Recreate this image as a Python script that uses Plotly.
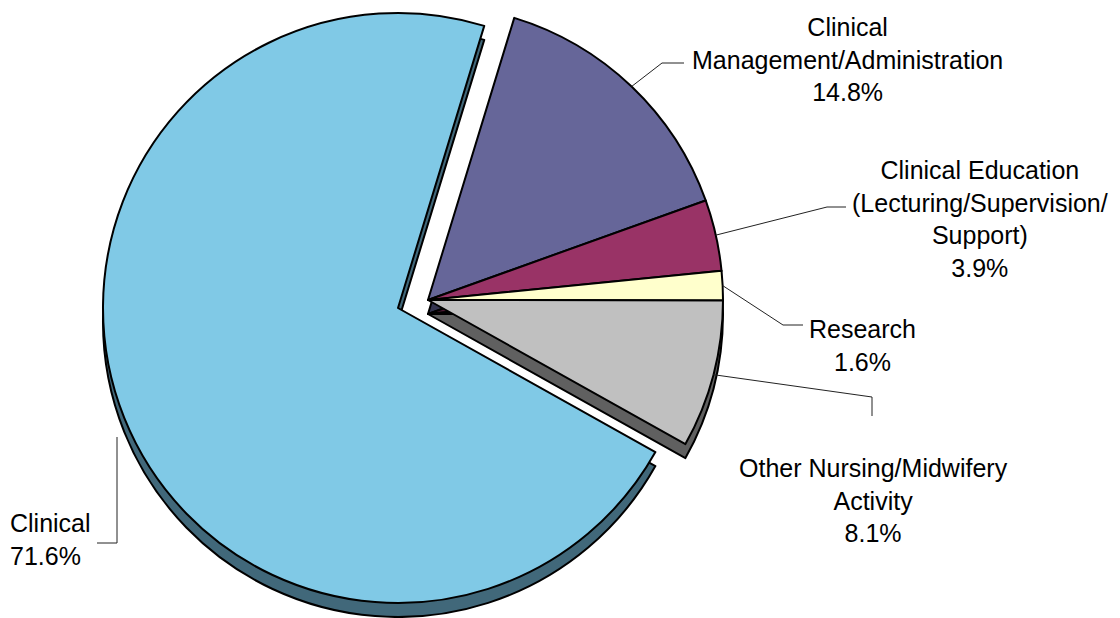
import math
import plotly.graph_objects as go

# ---------------- data ----------------
categories = [
    "Clinical Management/Administration",
    "Clinical Education (Lecturing/Supervision/Support)",
    "Research",
    "Other Nursing/Midwifery Activity",
    "Clinical",
]
label_lines = [
    ["Clinical", "Management/Administration"],
    ["Clinical Education", "(Lecturing/Supervision/", "Support)"],
    ["Research"],
    ["Other Nursing/Midwifery", "Activity"],
    ["Clinical"],
]
values = [14.8, 3.9, 1.6, 8.1, 71.6]
face_colors = ["#666699", "#993366", "#FFFFCC", "#C0C0C0", "#80C9E6"]
side_colors = ["#33334F", "#4D1A33", "#8C8C6A", "#606060", "#41687A"]
exploded = [False, False, False, False, True]

# ---------------- layout geometry (pixels) ----------------
W, H = 1120, 618
R = 295
CX, CY = 428, 300          # centre of the non-exploded slices
EXPLODE = (-30, 8)         # offset of exploded slice
DEPTH = 14                 # 3-D side thickness
ROT = 17                   # start angle, clockwise from 12 o'clock
FONT = "Liberation Sans, Arial, sans-serif"
FS = 25


def dom(cx, cy):
    return dict(x=[(cx - R) / W, (cx + R) / W],
                y=[1 - (cy + R) / H, 1 - (cy - R) / H])


def P(x, y):
    return x / W, 1 - y / H


fig = go.Figure()
transparent = "rgba(0,0,0,0)"
for layer, cols, dy in (("side", side_colors, DEPTH), ("face", face_colors, 0)):
    for grp in (False, True):
        cx = CX + (EXPLODE[0] if grp else 0)
        cy = CY + (EXPLODE[1] if grp else 0) + dy
        colors = [c if e == grp else transparent for c, e in zip(cols, exploded)]
        widths = [2 if e == grp else 0 for e in exploded]
        fig.add_trace(go.Pie(
            labels=categories, values=values, sort=False,
            direction="clockwise", rotation=ROT,
            marker=dict(colors=colors, line=dict(color="black", width=widths)),
            textinfo="none", hoverinfo="skip", showlegend=False,
            domain=dom(cx, cy),
        ))

# ---------------- labels & leader lines ----------------
total = sum(values)
cum = 0.0
mids = []
for i, v in enumerate(values):
    a = ROT + (cum + v / 2) / total * 360
    cum += v
    cx = CX + (EXPLODE[0] if exploded[i] else 0)
    cy = CY + (EXPLODE[1] if exploded[i] else 0)
    rad = math.radians(a)
    mids.append((cx + R * math.sin(rad), cy - R * math.cos(rad)))

label_pos = [  # centre x, centre y, xanchor
    (847, 60, "center"),
    (980, 219, "center"),
    (862, 345, "center"),
    (873, 500, "center"),
    (8, 539, "left"),
]
elbows = [
    [(662, 63), (684, 63)],
    [(827, 207), (846, 207)],
    [(783, 325), (803, 325)],
    [(872, 397), (872, 416)],
    [(117, 437), (117, 543), (97, 543)],
]

for i, v in enumerate(values):
    x, y, xa = label_pos[i]
    px, py = P(x, y)
    text = "<br>".join(label_lines[i] + [f"{v:.1f}%"])
    fig.add_annotation(x=px, y=py, xref="paper", yref="paper", text=text,
                       showarrow=False, xanchor=xa, yanchor="middle",
                       align="left" if xa == "left" else "center",
                       font=dict(family=FONT, size=FS, color="black"))
    pts = [mids[i]] + elbows[i] if i != 4 else elbows[i]
    path = "M " + " L ".join(f"{P(a, b)[0]} {P(a, b)[1]}" for a, b in pts)
    fig.add_shape(type="path", path=path, xref="paper", yref="paper",
                  line=dict(color="#222222", width=1))

fig.update_layout(
    width=W, height=H,
    margin=dict(l=0, r=0, t=0, b=0),
    paper_bgcolor="white", plot_bgcolor="white",
    showlegend=False,
)

fig.write_html("out.html",
               config={"displayModeBar": False},
               post_script="document.body.style.margin='0';document.body.style.overflow='hidden';")
